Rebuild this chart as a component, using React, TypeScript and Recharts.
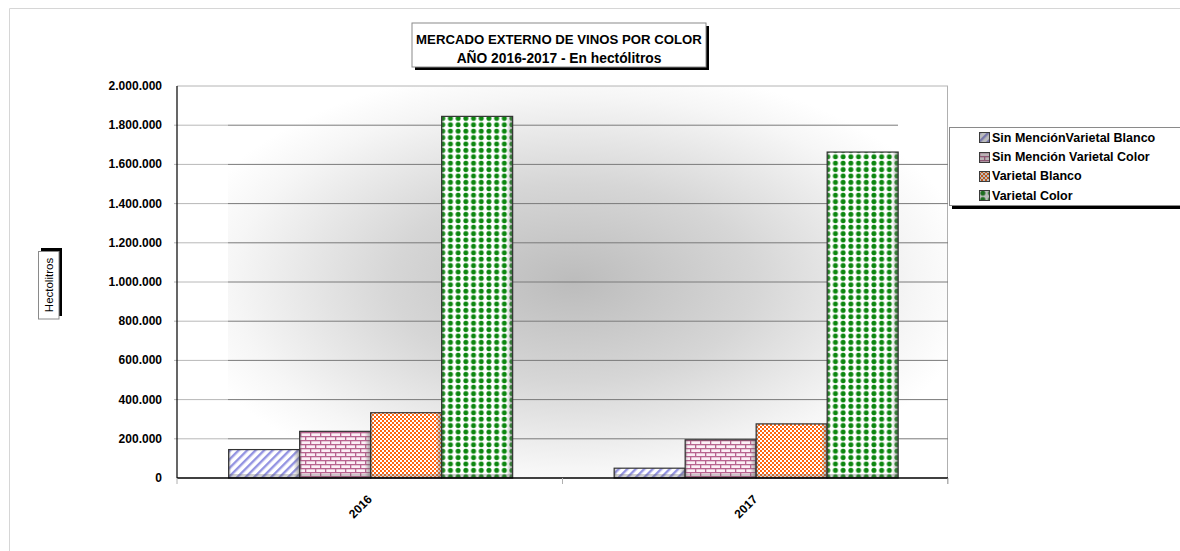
import React from 'react';
import { BarChart, Bar, XAxis, YAxis, CartesianGrid, Legend } from 'recharts';

const categories = ['2016', '2017'];
const sinMencionBlanco = [145000, 50000];
const sinMencionColor = [238000, 195000];
const varietalBlanco = [333000, 276000];
const varietalColor = [1845000, 1663000];
const yTicks = [0, 200000, 400000, 600000, 800000, 1000000, 1200000, 1400000, 1600000, 1800000, 2000000];
const seriesNames = [
  'Sin MenciónVarietal Blanco',
  'Sin Mención Varietal Color',
  'Varietal Blanco',
  'Varietal Color',
];
const seriesKeys = ['smb', 'smc', 'vb', 'vc'];
const seriesFills = ['url(#pBlue)', 'url(#pBrick)', 'url(#pOrange)', 'url(#pGreen)'];
const titleLines = ['MERCADO EXTERNO DE VINOS POR COLOR', 'AÑO 2016-2017 - En hectólitros'];
const yAxisTitle = 'Hectolitros';

const data = categories.map((c, i) => ({
  year: c,
  smb: sinMencionBlanco[i],
  smc: sinMencionColor[i],
  vb: varietalBlanco[i],
  vc: varietalColor[i],
}));

const W = 1180;
const H = 551;
const PLOT_LEFT = 177;
const PLOT_TOP = 86;
const PLOT_BOTTOM = 478;
const PLOT_RIGHT = 948;
const FONT = '"Liberation Sans", Arial, sans-serif';

const fmt = (v: number) => String(v).replace(/\B(?=(\d{3})+(?!\d))/g, '.');

const PatternDefs = () => (
  <defs>
    <pattern id="pBlue" width="6" height="6" patternUnits="userSpaceOnUse" patternTransform="rotate(45)">
      <rect width="6" height="6" fill="#ffffff" />
      <rect x="0" y="0" width="2.4" height="6" fill="#9494e2" />
    </pattern>
    <pattern id="pBrick" width="10" height="8" patternUnits="userSpaceOnUse">
      <rect width="10" height="8" fill="#fbf0f5" />
      <rect x="0" y="0" width="10" height="1.3" fill="#b8648f" />
      <rect x="0" y="4" width="10" height="1.3" fill="#b8648f" />
      <rect x="0" y="0" width="1.3" height="4" fill="#b8648f" />
      <rect x="5" y="4" width="1.3" height="4" fill="#b8648f" />
    </pattern>
    <pattern id="pOrange" width="4" height="4" patternUnits="userSpaceOnUse">
      <rect width="4" height="4" fill="#ff6610" />
      <rect x="0" y="0" width="2" height="2" fill="#ffffff" />
      <rect x="2" y="2" width="2" height="2" fill="#ffffff" />
    </pattern>
    <pattern id="pGreen" width="7.7" height="6.4" patternUnits="userSpaceOnUse">
      <rect width="7.7" height="6.4" fill="#ffffff" />
      <circle cx="3.85" cy="3.2" r="2.5" fill="#0c860f" />
    </pattern>
    <linearGradient id="sideShadeR" x1="0" y1="0" x2="1" y2="0">
      <stop offset="0%" stopColor="#707070" stopOpacity="0" />
      <stop offset="100%" stopColor="#606060" stopOpacity="0.6" />
    </linearGradient>
    <linearGradient id="sideShadeL" x1="0" y1="0" x2="1" y2="0">
      <stop offset="0%" stopColor="#606060" stopOpacity="0.45" />
      <stop offset="100%" stopColor="#707070" stopOpacity="0" />
    </linearGradient>
  </defs>
);

const PatternBar = (props: any) => {
  const { x, y, width, height, fill } = props;
  if (!height || height <= 0) return null;
  const bs = Math.min(4, height);
  return (
    <g>
      <rect x={x} y={y} width={width} height={height} fill={fill} />
      <rect x={x} y={y} width={3} height={height} fill="url(#sideShadeL)" />
      <rect x={x + width - 6} y={y} width={6} height={height} fill="url(#sideShadeR)" />
      <rect x={x} y={y + height - bs} width={width} height={bs} fill="#606060" fillOpacity={0.3} />
      <rect x={x} y={y} width={width} height={height} fill="none" stroke="#333333" strokeWidth={1.2} />
    </g>
  );
};

const YTick = (props: any) => {
  const { y, payload } = props;
  return (
    <text x={PLOT_LEFT - 15} y={y + 4} textAnchor="end" fontFamily={FONT} fontWeight="bold" fontSize={12} fill="#000">
      {fmt(payload.value)}
    </text>
  );
};

const XTick = (props: any) => {
  const { x, payload } = props;
  const off = payload && payload.offset ? payload.offset : 192.75;
  return (
    <g>
      <line x1={x - off} x2={x - off} y1={PLOT_BOTTOM} y2={PLOT_BOTTOM + 6} stroke="#b0b0b0" />
      <line x1={x + off} x2={x + off} y1={PLOT_BOTTOM} y2={PLOT_BOTTOM + 6} stroke="#b0b0b0" />
      <text
        x={x + 3}
        y={PLOT_BOTTOM + 22}
        textAnchor="end"
        transform={`rotate(-45, ${x + 3}, ${PLOT_BOTTOM + 22})`}
        fontFamily={FONT}
        fontWeight="bold"
        fontSize={12}
        fill="#000"
      >
        {payload.value}
      </text>
    </g>
  );
};

const GridLine = (p: any) => {
  const { x1, x2, y1 } = p;
  const key = `g-${y1}`;
  const step = (PLOT_BOTTOM - PLOT_TOP) / 10;
  if (Math.abs(y1 - PLOT_BOTTOM) < 1) return <g key={key} />;
  if (Math.abs(y1 - PLOT_TOP) < 1) {
    return <line key={key} x1={x1} x2={x2} y1={y1} y2={y1} stroke="#b4b4b4" strokeWidth={1} />;
  }
  const end = Math.abs(y1 - (PLOT_TOP + step)) < 1 ? x2 - 50 : x2;
  return (
    <g key={key}>
      <line x1={x1 - 3} x2={x1 + 51} y1={y1} y2={y1} stroke="#b8b8b8" strokeWidth={1} />
      <line x1={x1 + 51} x2={end} y1={y1} y2={y1} stroke="#7a7a7a" strokeWidth={1} />
    </g>
  );
};

const LegendBox = () => (
  <div
    style={{
      width: W - 949,
      height: 79,
      boxSizing: 'border-box',
      border: '1px solid #8a8a8a',
      borderRight: 'none',
      background: '#fff',
      boxShadow: '3px 3px 0 #000',
      fontFamily: FONT,
      fontWeight: 'bold',
      fontSize: 12.5,
      color: '#000',
      paddingLeft: 29,
      paddingTop: 0,
    }}
  >
    {seriesNames.map((n, i) => (
      <div key={n} style={{ height: 19.4, display: 'flex', alignItems: 'center', whiteSpace: 'nowrap' }}>
        <svg width={11} height={11} style={{ flex: 'none' }}>
          <rect x={0.5} y={0.5} width={10} height={10} fill={seriesFills[i]} stroke="#3a3a3a" />
          <rect x={0.5} y={0.5} width={10} height={10} fill="#404040" fillOpacity={0.35} />
        </svg>
        <span style={{ marginLeft: 2 }}>{n}</span>
      </div>
    ))}
  </div>
);

export default function App() {
  return (
    <div style={{ position: 'absolute', left: 0, top: 0, width: W, height: H, background: '#fff', overflow: 'hidden' }}>
      <svg width={W} height={H} style={{ position: 'absolute', left: 0, top: 0 }}>
        <defs>
          <radialGradient id="bgGrad" cx="48%" cy="50%" r="56%">
            <stop offset="0%" stopColor="#bcbcbc" />
            <stop offset="45%" stopColor="#d6d6d6" />
            <stop offset="85%" stopColor="#f6f6f6" />
            <stop offset="100%" stopColor="#ffffff" />
          </radialGradient>
        </defs>
        <line x1={9.5} y1={8.5} x2={W} y2={8.5} stroke="#d6d6d6" />
        <line x1={9.5} y1={8.5} x2={9.5} y2={H} stroke="#d6d6d6" />
        <rect x={228} y={PLOT_TOP} width={PLOT_RIGHT - 228} height={PLOT_BOTTOM - PLOT_TOP} fill="url(#bgGrad)" />
        <line x1={PLOT_RIGHT - 0.5} y1={PLOT_TOP} x2={PLOT_RIGHT - 0.5} y2={PLOT_BOTTOM + 6} stroke="#b0b0b0" />
        <rect x={415} y={26} width={294} height={44} fill="#000" />
        <rect x={412} y={23} width={294} height={44} fill="#fff" stroke="#8a8a8a" />
        <text x={559} y={43.5} textAnchor="middle" fontFamily={FONT} fontWeight="bold" fontSize={13.2} fill="#000">
          {titleLines[0]}
        </text>
        <text x={559} y={63} textAnchor="middle" fontFamily={FONT} fontWeight="bold" fontSize={13.8} fill="#000">
          {titleLines[1]}
        </text>
        <rect x={41} y={248} width={21} height={68} fill="#000" />
        <rect x={38.5} y={251.5} width={20.5} height={67.5} fill="#fff" stroke="#8a8a8a" />
        <text
          x={53}
          y={285}
          textAnchor="middle"
          transform="rotate(-90, 53, 285)"
          fontFamily={FONT}
          fontSize={11.5}
          fill="#000"
        >
          {yAxisTitle}
        </text>
      </svg>
      <div style={{ position: 'absolute', left: 0, top: 0 }}>
        <BarChart
          width={W}
          height={H}
          data={data}
          margin={{ top: PLOT_TOP, right: W - PLOT_RIGHT, bottom: H - PLOT_BOTTOM - 40, left: PLOT_LEFT - 100 }}
          barCategoryGap="13.4%"
          barGap={0}
        >
          <PatternDefs />
          <CartesianGrid vertical={false} horizontal={GridLine} />
          <XAxis
            dataKey="year"
            height={40}
            interval={0}
            tickLine={false}
            axisLine={{ stroke: '#000', strokeWidth: 1.5 }}
            tick={<XTick />}
          />
          <YAxis
            width={100}
            domain={[0, 2000000]}
            ticks={yTicks}
            interval={0}
            tickLine={false}
            axisLine={{ stroke: '#000', strokeWidth: 1.2 }}
            tick={<YTick />}
          />
          <Legend
            layout="vertical"
            align="center"
            verticalAlign="middle"
            wrapperStyle={{ left: 949, top: 127, width: W - 949, height: 79 }}
            content={<LegendBox />}
          />
          {seriesKeys.map((k, i) => (
            <Bar key={k} dataKey={k} name={seriesNames[i]} fill={seriesFills[i]} shape={<PatternBar />} isAnimationActive={false} />
          ))}
        </BarChart>
      </div>
    </div>
  );
}
